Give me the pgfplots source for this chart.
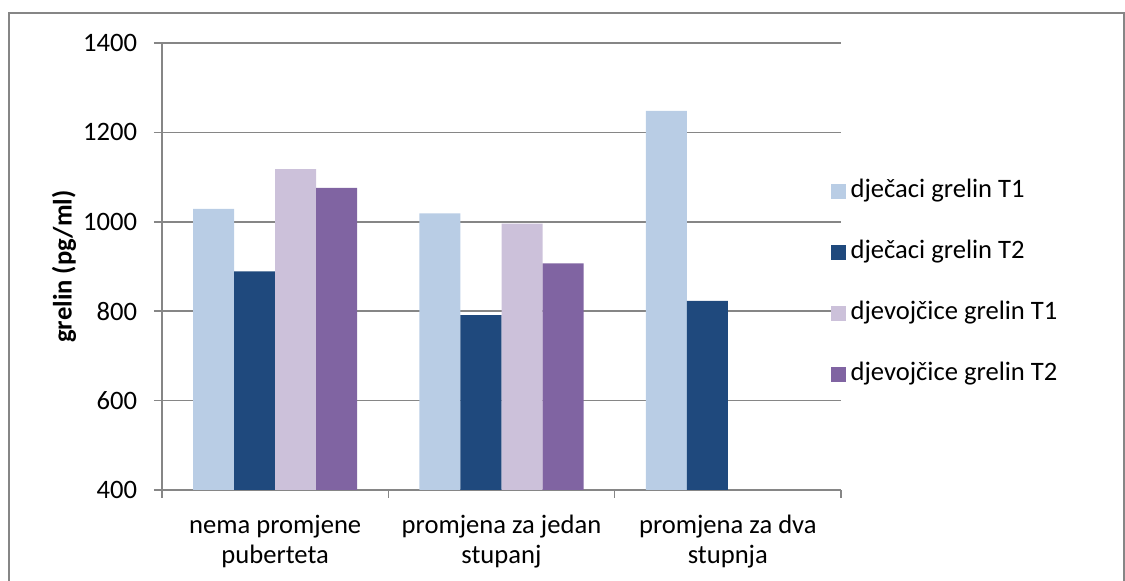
\documentclass[border=0pt]{standalone}
\usepackage{pgfplots}
\pgfplotsset{compat=1.18}
\usepackage{fontspec}
\setmainfont{Carlito}
\definecolor{cA}{HTML}{B9CDE5}
\definecolor{cB}{HTML}{1F497D}
\definecolor{cC}{HTML}{CCC1DA}
\definecolor{cD}{HTML}{8064A2}
\definecolor{axgray}{HTML}{868686}
\begin{document}
\fontsize{13.3pt}{15.2pt}\selectfont
\begin{tikzpicture}
\useasboundingbox (0,0) rectangle (562.5pt,290.5pt);
\draw[axgray, line width=0.75pt] (4.5pt,0) -- (4.5pt,284pt) -- (562pt,284pt) -- (562pt,0);
\begin{axis}[
  at={(81pt,45.5pt)}, anchor=south west,
  scale only axis, width=339.5pt, height=223.5pt,
  ybar=0pt, bar width=20.5pt,
  xmin=-0.5, xmax=2.5,
  ymin=400, ymax=1400,
  ytick={400,600,800,1000,1200,1400},
  xtick={0,1,2},
  xticklabels={{nema promjene\\puberteta},{promjena za jedan\\stupanj},{promjena za dva\\stupnja}},
  xticklabel style={align=center, font=\fontsize{13.3pt}{15pt}\selectfont, yshift=-4pt},
  yticklabel style={font=\fontsize{13.3pt}{15pt}\selectfont, xshift=-3.8pt},
  /pgf/number format/assume math mode=true,
  /pgf/number format/1000 sep={},
  minor xtick={-0.5,0.5,1.5,2.5},
  major x tick style={draw=none},
  tick align=outside,
  major tick length=4pt, minor tick length=4pt,
  tick style={axgray, line width=0.75pt},
  axis x line*=bottom, axis y line*=left,
  xtick pos=left, ytick pos=left,
  axis line style={axgray, line width=0.75pt},
  ymajorgrids, grid style={axgray, line width=0.75pt},
  every axis y label/.style={at={([xshift=-49pt]rel axis cs:0,0.5)}, anchor=center, rotate=90},
  ylabel={\textbf{grelin (pg/ml)}},
  legend cell align=left,
  legend image code/.code={\fill[#1] (0pt,-3.6pt) rectangle (7.2pt,3.6pt);},
  legend style={draw=none, fill=none, at={(0.985,0.463)}, anchor=west,
    inner sep=0pt, row sep=18.2pt,
    nodes={inner xsep=2.5pt, inner ysep=0pt, text height=9.3pt, text depth=3pt},
    font=\fontsize{13.3pt}{15pt}\selectfont},
]
\addplot[fill=cA, draw=none] coordinates {(0,1029) (1,1019) (2,1248)};
\addplot[fill=cB, draw=none] coordinates {(0,889) (1,791) (2,823)};
\addplot[fill=cC, draw=none] coordinates {(0,1118) (1,996)};
\addplot[fill=cD, draw=none] coordinates {(0,1076) (1,907)};
\legend{dječaci grelin T1, dječaci grelin T2, djevojčice grelin T1, djevojčice grelin T2}
\end{axis}
\end{tikzpicture}
\end{document}
